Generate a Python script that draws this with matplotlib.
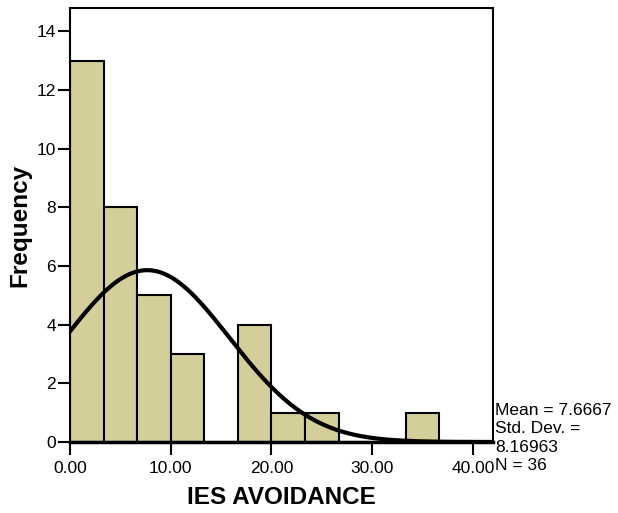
import matplotlib.pyplot as plt
import numpy as np

plt.rcParams['font.family'] = ['Liberation Sans', 'DejaVu Sans']

# histogram of IES AVOIDANCE (bin width 3.333)
bin_edges = np.arange(0, 12) * (10 / 3)
counts = [13, 8, 5, 3, 0, 4, 1, 1, 0, 0, 1]
mean = 7.6667
std = 8.16963
n = 36

xticks = [0, 10, 20, 30, 40]
xticklabels = ["0.00", "10.00", "20.00", "30.00", "40.00"]
yticks = [0, 2, 4, 6, 8, 10, 12, 14]

fig = plt.figure(figsize=(6.18, 5.13), dpi=100)
ax = fig.add_axes([0.1133, 0.1384, 0.6844, 0.846])

ax.bar(bin_edges[:-1], counts, width=np.diff(bin_edges), align="edge",
       color="#d3ce9a", edgecolor="black", linewidth=1.5, zorder=2)

xs = np.linspace(0, 42, 400)
bw = bin_edges[1] - bin_edges[0]
pdf = n * bw / (std * np.sqrt(2 * np.pi)) * np.exp(-0.5 * ((xs - mean) / std) ** 2)
ax.plot(xs, pdf, color="black", linewidth=3, zorder=3)

ax.set_xlim(0, 42)
ax.set_ylim(0, 14.8)
ax.set_xticks(xticks)
ax.set_xticklabels(xticklabels)
ax.set_yticks(yticks)
ax.tick_params(axis="x", length=9, width=1.5, labelsize=12.5, pad=5)
ax.tick_params(axis="y", length=9, width=1.5, labelsize=12.5, pad=1)
for s in ax.spines.values():
    s.set_linewidth(1.5)
ax.spines["bottom"].set_linewidth(2.5)

ax.set_xlabel("IES AVOIDANCE", fontsize=17.5, fontweight="bold", labelpad=7)
ax.set_ylabel("Frequency", fontsize=17.5, fontweight="bold", labelpad=4)

fig.text(495 / 618, 1 - 438 / 513,
         "Mean = 7.6667\nStd. Dev. =\n8.16963\nN = 36",
         fontsize=12.5, va="center", ha="left", linespacing=1.3)

plt.savefig("out.png", dpi=100)
